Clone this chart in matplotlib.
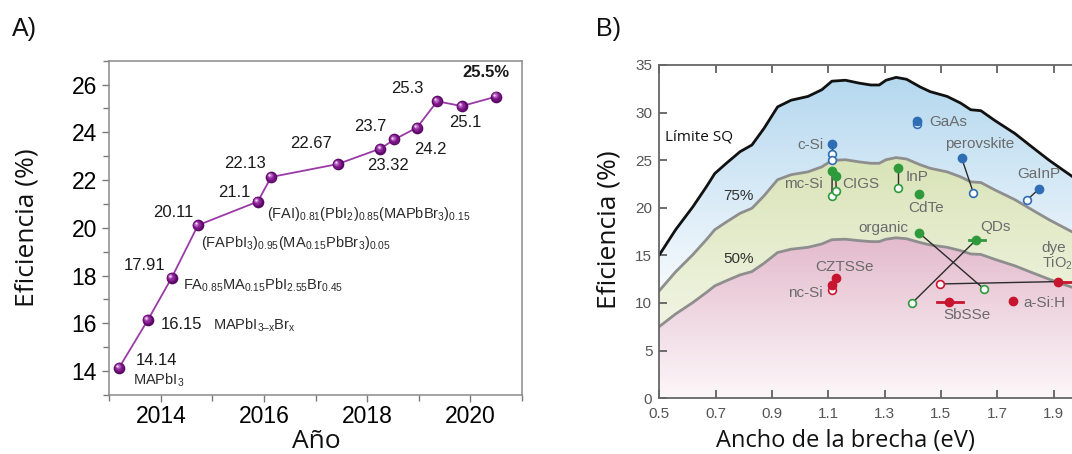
import numpy as np
import matplotlib
matplotlib.use("Agg")
import matplotlib.pyplot as plt
from matplotlib.patches import Polygon
from matplotlib.colors import to_rgb
from matplotlib.transforms import offset_copy

plt.rcParams['font.family'] = ['Liberation Sans', 'DejaVu Sans']
plt.rcParams['mathtext.fontset'] = 'custom'
plt.rcParams['mathtext.rm'] = 'Liberation Sans'
plt.rcParams['mathtext.it'] = 'Liberation Sans:italic'
plt.rcParams['mathtext.bf'] = 'Liberation Sans:bold'

# ---------------- Panel A: perovskite record efficiency ----------------
years = [2013.19, 2013.75, 2014.21, 2014.72, 2015.88, 2016.14, 2017.43,
         2018.26, 2018.53, 2018.97, 2019.36, 2019.84, 2020.51]
efficiency = [14.14, 16.15, 17.91, 20.11, 21.1, 22.13, 22.67,
              23.32, 23.7, 24.2, 25.3, 25.1, 25.5]
year_ticks = [2014, 2016, 2018, 2020]
eff_ticks = [14, 16, 18, 20, 22, 24, 26]

compositions = [
    r'MAPbI$_\mathrm{3}$',
    r'MAPbI$_\mathrm{3–x}$Br$_\mathrm{x}$',
    r'FA$_\mathrm{0.85}$MA$_\mathrm{0.15}$PbI$_\mathrm{2.55}$Br$_\mathrm{0.45}$',
    r'(FAPbI$_\mathrm{3}$)$_\mathrm{0.95}$(MA$_\mathrm{0.15}$PbBr$_\mathrm{3}$)$_\mathrm{0.05}$',
    r'(FAI)$_\mathrm{0.81}$(PbI$_\mathrm{2}$)$_\mathrm{0.85}$(MAPbBr$_\mathrm{3}$)$_\mathrm{0.15}$',
]

# ---------------- Panel B: Shockley-Queisser limit ----------------
sq_gap = [0.50, 0.558, 0.619, 0.667, 0.697, 0.739, 0.787, 0.829, 0.872, 0.920,
          0.968, 1.028, 1.077, 1.113, 1.161, 1.209, 1.251, 1.281, 1.305, 1.341,
          1.378, 1.426, 1.462, 1.522, 1.570, 1.606, 1.642, 1.690, 1.763, 1.823,
          1.884, 1.932, 1.966, 2.03, 2.10]
sq_eff = [15.05, 17.7, 20.1, 22.2, 23.6, 24.7, 25.9, 26.6, 28.35, 30.6,
          31.3, 31.7, 32.4, 33.3, 33.4, 33.1, 32.9, 32.9, 33.4, 33.7,
          33.5, 32.7, 32.2, 31.7, 31.0, 30.3, 30.2, 29.2, 27.8, 26.4,
          25.0, 24.0, 23.3, 21.9, 20.4]
sq_fractions = [0.75, 0.50]

gap_ticks = [0.5, 0.7, 0.9, 1.1, 1.3, 1.5, 1.7, 1.9]
eff_ticks_b = [0, 5, 10, 15, 20, 25, 30, 35]

mat_names = ['c-Si', 'GaAs', 'perovskite', 'GaInP', 'mc-Si', 'CIGS', 'InP',
             'CdTe', 'organic', 'QDs', 'CZTSSe', 'nc-Si', 'dye', 'SbSSe', 'a-Si:H']
mat_group = ['blue', 'blue', 'blue', 'blue', 'green', 'green', 'green',
             'green', 'green', 'green', 'red', 'red', 'red', 'red', 'red']
cell_gap = [1.115, 1.414, 1.574, 1.849, 1.114, 1.127, 1.346,
            1.424, 1.423, 1.624, 1.127, 1.115, 1.917, 1.527, 1.756]
cell_eff = [26.7, 29.1, 25.2, 22.0, 23.9, 23.35, 24.2,
            21.5, 17.35, 16.6, 12.6, 11.9, 12.25, 10.1, 10.2]

open_owner = ['c-Si', 'c-Si', 'GaAs', 'perovskite', 'GaInP', 'mc-Si', 'CIGS',
              'InP', 'organic', 'QDs', 'nc-Si', 'dye']
open_gap = [1.115, 1.115, 1.414, 1.615, 1.805, 1.113, 1.128,
            1.346, 1.654, 1.396, 1.114, 1.497]
open_eff = [25.6, 25.0, 28.8, 21.6, 20.8, 21.25, 21.8,
            22.1, 11.45, 9.95, 11.4, 12.0]

bar_owner = ['QDs', 'SbSSe', 'dye']
bar_lo = [1.600, 1.486, 1.917]
bar_hi = [1.657, 1.578, 2.06]

group_color = {'blue': '#2f6db5', 'green': '#2e9a3c', 'red': '#c8152f'}

W, H = 1072, 454
fig = plt.figure(figsize=(W / 100, H / 100), dpi=100)


def px_rect(left, top, right, bottom):
    return [left / W, 1 - bottom / H, (right - left) / W, (bottom - top) / H]


# ======================= Panel A =======================
axA = fig.add_axes(px_rect(109.3, 60.7, 521.7, 395.0))
axA.set_xlim(2013, 2021)
axA.set_ylim(13, 27)
axA.plot(years, efficiency, '-', color='#9a3aa6', lw=1.3, zorder=2)

# shaded spheres built from stacked markers
sphere_layers = [(8.4, '#5a0866', 0.0), (6.8, '#74137f', 0.35), (5.0, '#902a9c', 0.75),
                 (3.2, '#b766c2', 1.1), (1.6, '#eedcf1', 1.4)]
for i, (ms, col, d) in enumerate(sphere_layers):
    tr = offset_copy(axA.transData, fig=fig, x=-d, y=d, units='points')
    axA.plot(years, efficiency, 'o', ms=ms, color=col, mec='none',
             transform=tr, zorder=3 + i)

for sp in axA.spines.values():
    sp.set_color('#8a8a8a')
    sp.set_linewidth(1.1)
axA.set_xticks(year_ticks)
axA.set_xticks([2013, 2015, 2017, 2019, 2021], minor=True)
axA.set_yticks(eff_ticks)
axA.set_yticks(np.arange(13, 28, 2), minor=True)
axA.tick_params(which='both', direction='out', color='#7a7a7a', width=1.0)
axA.tick_params(which='major', length=5)
axA.tick_params(which='minor', length=4)
axA.tick_params(axis='x', labelsize=16.5, pad=2.5)
axA.tick_params(axis='y', labelsize=16.5, pad=4)

val_fs = 12
form_fs = 10.5
# value labels
value_text = [
    ('14.14', 2013.52, 14.46, 'left'),
    ('16.15', 2014.00, 15.97, 'left'),
    ('17.91', 2014.08, 18.42, 'right'),
    ('20.11', 2014.63, 20.64, 'right'),
    ('21.1', 2015.73, 21.48, 'right'),
    ('22.13', 2016.03, 22.70, 'right'),
    ('22.67', 2017.31, 23.55, 'right'),
    ('23.32', 2018.41, 22.63, 'center'),
    ('23.7', 2018.38, 24.24, 'right'),
    ('24.2', 2018.92, 23.29, 'left'),
    ('25.3', 2019.10, 25.82, 'right'),
    ('25.1', 2019.59, 24.41, 'left'),
]
for (txt, x, y, ha), v in zip(value_text, efficiency):
    axA.text(x, y, txt, fontsize=val_fs, ha=ha, va='center', color='#1a1a1a', zorder=10)
axA.text(2020.76, 26.49, f'{efficiency[-1]}%', fontsize=val_fs, fontweight='bold',
         ha='right', va='center', color='#1a1a1a')

comp_pos = [(2013.46, 13.62), (2015.02, 15.90), (2014.42, 17.58),
            (2014.78, 19.37), (2016.05, 20.57)]
for txt, (x, y) in zip(compositions, comp_pos):
    axA.text(x, y, txt, fontsize=form_fs, ha='left', va='center', color='#2a2a2a')

fig.text(12 / W, 1 - 29 / H, 'A)', fontsize=18, ha='left', va='center', color='#111')
fig.text(316 / W, 1 - 442 / H, 'Año', fontsize=19, family='Open Sans',
         ha='center', va='center', color='#111')
fig.text(27.5 / W, 1 - 227.5 / H, 'Eficiencia (%)', fontsize=19, family='Open Sans',
         rotation=90, ha='center', va='center', color='#111')

# ======================= Panel B =======================
axB = fig.add_axes(px_rect(659.3, 65.0, 659.3 + 1.6 * 281.6, 398.2))
gx = np.array(sq_gap)
top = np.array(sq_eff)
mid = top * sq_fractions[0]
low = top * sq_fractions[1]
xlim_b = (0.5, 2.1)


def band(y_upper, y_lower):
    return np.vstack([np.column_stack([gx, y_upper]),
                      np.column_stack([gx[::-1], y_lower[::-1]])])


def gradient_fill(ax, verts, c_top, c_bot, y_top, y_bot):
    ys = np.linspace(35, 0, 400)
    t = np.clip((ys - y_bot) / (y_top - y_bot), 0, 1)[:, None]
    cols = np.array(to_rgb(c_bot)) * (1 - t) + np.array(to_rgb(c_top)) * t
    img = np.repeat(cols[:, None, :], 2, axis=1)
    im = ax.imshow(img, extent=(xlim_b[0], xlim_b[1], 0, 35), origin='upper',
                   aspect='auto', interpolation='bilinear', zorder=0)
    poly = Polygon(verts, closed=True, transform=ax.transData, fc='none', ec='none')
    ax.add_patch(poly)
    im.set_clip_path(poly)


gradient_fill(axB, band(top, mid), '#b5d8ef', '#f4f9fd', 33.5, 12.0)
gradient_fill(axB, band(mid, low), '#d9e4b8', '#f1f4e2', 25.0, 8.0)
gradient_fill(axB, band(low, np.zeros_like(low)), '#e4bccd', '#fcf7f9', 16.5, 0.0)

axB.plot(gx, top, color='#111111', lw=2.0, zorder=2)
axB.plot(gx, mid, color='#8e8e8e', lw=2.0, zorder=2)
axB.plot(gx, low, color='#8e8e8e', lw=2.0, zorder=2)

idx = {n: i for i, n in enumerate(mat_names)}
# connectors between record cell and second entry
for own, og, oe in zip(open_owner, open_gap, open_eff):
    i = idx[own]
    axB.plot([cell_gap[i], og], [cell_eff[i], oe], color='#2b2b2b', lw=1.0, zorder=3)
for own, lo, hi in zip(bar_owner, bar_lo, bar_hi):
    i = idx[own]
    axB.plot([lo, hi], [cell_eff[i], cell_eff[i]], color=group_color[mat_group[i]],
             lw=2.0, zorder=3)
for own, og, oe in zip(open_owner, open_gap, open_eff):
    c = group_color[mat_group[idx[own]]]
    axB.plot(og, oe, 'o', ms=5.6, mfc='white', mec=c, mew=1.2, zorder=4)
for i in range(len(mat_names)):
    c = group_color[mat_group[i]]
    axB.plot(cell_gap[i], cell_eff[i], 'o', ms=6.0, color=c, mec=c, zorder=5)

lab_col = '#6b6b6b'
lab_fs = 11
mat_label_pos = {
    'c-Si': (1.082, 26.6, 'right'),
    'GaAs': (1.459, 29.0, 'left'),
    'perovskite': (1.638, 26.7, 'center'),
    'GaInP': (1.846, 23.56, 'center'),
    'mc-Si': (1.080, 22.5, 'right'),
    'CIGS': (1.148, 22.5, 'left'),
    'InP': (1.376, 23.2, 'left'),
    'CdTe': (1.447, 19.96, 'center'),
    'organic': (1.384, 17.9, 'right'),
    'QDs': (1.692, 18.0, 'center'),
    'CZTSSe': (1.157, 13.8, 'center'),
    'nc-Si': (1.080, 11.1, 'right'),
    'dye': (1.858, 15.75, 'left'),
    'SbSSe': (1.594, 8.75, 'center'),
    'a-Si:H': (1.793, 10.05, 'left'),
}
for name in mat_names:
    x, y, ha = mat_label_pos[name]
    axB.text(x, y, name, fontsize=lab_fs, color=lab_col, ha=ha, va='center', zorder=6)
axB.text(1.859, 14.2, r'TiO$_\mathrm{2}$', fontsize=10.5, color=lab_col,
         ha='left', va='center', zorder=6)

axB.text(0.521, 27.4, 'Límite SQ', fontsize=11, family='Open Sans', color='#111',
         ha='left', va='center', zorder=6)
axB.text(0.780, 21.2, f'{int(sq_fractions[0] * 100)}%', fontsize=11, color='#333',
         ha='center', va='center', zorder=6)
axB.text(0.780, 14.6, f'{int(sq_fractions[1] * 100)}%', fontsize=11, color='#333',
         ha='center', va='center', zorder=6)

axB.set_xlim(*xlim_b)
axB.set_ylim(0, 35)
axB.set_xticks(gap_ticks)
axB.set_xticklabels([f'{v:.1f}' for v in gap_ticks])
axB.set_yticks(eff_ticks_b)
for sp in axB.spines.values():
    sp.set_color('#666666')
    sp.set_linewidth(1.3)
axB.tick_params(direction='in', length=6, width=1.2, color='#555555',
                labelsize=11, labelcolor='#555555', top=True, right=True)
axB.tick_params(axis='x', pad=6)
axB.tick_params(axis='y', pad=5)

fig.text(596 / W, 1 - 29 / H, 'B)', fontsize=18, ha='left', va='center', color='#111')
fig.text(845 / W, 1 - 441 / H, 'Ancho de la brecha (eV)', fontsize=17,
         family='Open Sans', ha='center', va='center', color='#111')
fig.text(609.5 / W, 1 - 230 / H, 'Eficiencia (%)', fontsize=19, family='Open Sans',
         rotation=90, ha='center', va='center', color='#111')

fig.savefig('out.png', dpi=100)
